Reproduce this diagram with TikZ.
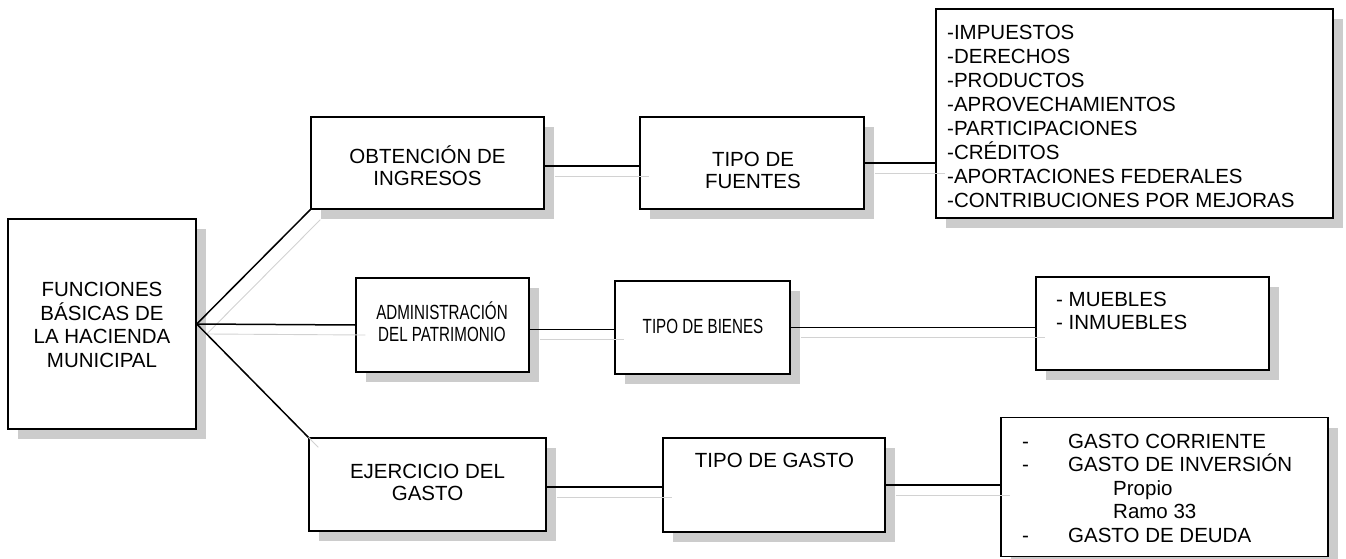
\documentclass[tikz,border=0pt]{standalone}
\usepackage{fontspec}
\usepackage{graphicx}
\setmainfont{Liberation Sans}
\newcommand\cnd[1]{\scalebox{0.74}[1]{#1}}
\usetikzlibrary{shadows,calc}
\begin{document}
\begin{tikzpicture}[x=1pt,y=-1pt,
  box/.style={draw=black, line width=1.5pt, fill=white, inner sep=0pt,
    drop shadow={shadow xshift=10pt, shadow yshift=-10pt, fill=gray!40, opacity=1}},
  txt/.style={inner sep=0pt, font=\fontsize{20.5}{23.5}\selectfont, align=center},
  ltxt/.style={inner sep=0pt, font=\fontsize{20.5}{23.8}\selectfont, align=left},
  conn/.style={line width=1.5pt},
  lshadow/.style={draw=gray!35, line width=0.9pt, transform canvas={shift={(10pt,-10pt)}}}]
\useasboundingbox (0,0) rectangle (1346,559);

% boxes
\node[box, minimum width=188pt, minimum height=210pt] (F) at (102,324) {};
\node[box, minimum width=233pt, minimum height=92pt] (OBT) at (427.5,163) {};
\node[box, minimum width=224pt, minimum height=92pt] (TF) at (752,163) {};
\node[box, minimum width=397pt, minimum height=209pt] (LIST) at (1134.5,113.5) {};
\node[box, minimum width=173pt, minimum height=94pt] (ADM) at (442.5,325) {};
\node[box, minimum width=175pt, minimum height=93pt] (TB) at (702.5,327.5) {};
\node[box, minimum width=233pt, minimum height=93pt] (MUE) at (1152.5,323.5) {};
\node[box, minimum width=237pt, minimum height=93pt] (EJ) at (427.5,484.5) {};
\node[box, minimum width=222pt, minimum height=94pt] (TG) at (774,485) {};
\node[box, minimum width=327pt, minimum height=139pt] (GC) at (1164.5,487) {};

% texts
\node[txt] (Ft) at (102,325) {FUNCIONES\\BÁSICAS DE\\LA HACIENDA\\MUNICIPAL};
\node[txt, font=\fontsize{20.5}{22}\selectfont] (OBTt) at (427.5,166) {OBTENCIÓN DE\\INGRESOS};
\node[txt, font=\fontsize{20.5}{22}\selectfont] (TFt) at (753,170) {TIPO DE\\FUENTES};
\node[txt, font=\fontsize{20.5}{22}\selectfont] (ADMt) at (442,322) {\cnd{ADMINISTRACIÓN}\\\cnd{DEL PATRIMONIO}};
\node[txt, font=\fontsize{20.5}{22}\selectfont] (TBt) at (703,326) {\cnd{TIPO DE BIENES}};
\node[txt, font=\fontsize{20.5}{21.5}\selectfont] (EJt) at (427.5,482.5) {EJERCICIO DEL\\GASTO};
\node[txt] (TGt) at (774.5,460) {TIPO DE GASTO};
\node[ltxt, anchor=west, font=\fontsize{20.5}{24}\selectfont] (LISTt) at (947,116) {-IMPUESTOS\\-DERECHOS\\-PRODUCTOS\\-APROVECHAMIENTOS\\-PARTICIPACIONES\\-CRÉDITOS\\-APORTACIONES FEDERALES\\-CONTRIBUCIONES POR MEJORAS};
\node[ltxt, anchor=west, font=\fontsize{20.5}{23}\selectfont] (MUEt) at (1056,310.5) {- MUEBLES\\- INMUEBLES};
\node[ltxt, anchor=west, font=\fontsize{20.5}{23.5}\selectfont] (GCt) at (1022,488) {\makebox[46pt][l]{-}GASTO CORRIENTE\\\makebox[46pt][l]{-}GASTO DE INVERSIÓN\\\hspace*{91pt}Propio\\\hspace*{91pt}Ramo 33\\\makebox[46pt][l]{-}GASTO DE DEUDA};

% connector shadows
\draw[lshadow] (F.east) -- (OBT.south west);
\draw[lshadow] (F.east) -- (ADM.west);
\draw[lshadow] ($(F.east)!0.9!(EJ.north west)$) -- (EJ.north west);
\draw[lshadow] ([yshift=-3pt]OBT.east) -- ([yshift=-3pt]TF.west);
\draw[lshadow] (TF.east) -- (TF.east -| LIST.west);
\draw[lshadow] ([yshift=-2pt]TB.west -| ADM.east) -- ([yshift=-2pt]TB.west);
\draw[lshadow] (TB.east) -- (TB.east -| MUE.west);
\draw[lshadow] ([yshift=-2pt]TG.west -| EJ.east) -- ([yshift=-2pt]TG.west);
\draw[lshadow] (TG.east) -- (TG.east -| GC.west);

% connectors
\draw[conn] (F.east) -- (OBT.south west);
\draw[conn] (F.east) -- (ADM.west);
\draw[conn] (F.east) -- (EJ.north west);
\draw[conn] ([yshift=-3pt]OBT.east) -- ([yshift=-3pt]TF.west);
\draw[conn] (TF.east) -- (TF.east -| LIST.west);
\draw[conn] ([yshift=-2pt]TB.west -| ADM.east) -- ([yshift=-2pt]TB.west);
\draw[conn] (TB.east) -- (TB.east -| MUE.west);
\draw[conn] ([yshift=-2pt]TG.west -| EJ.east) -- ([yshift=-2pt]TG.west);
\draw[conn] (TG.east) -- (TG.east -| GC.west);
\end{tikzpicture}
\end{document}
